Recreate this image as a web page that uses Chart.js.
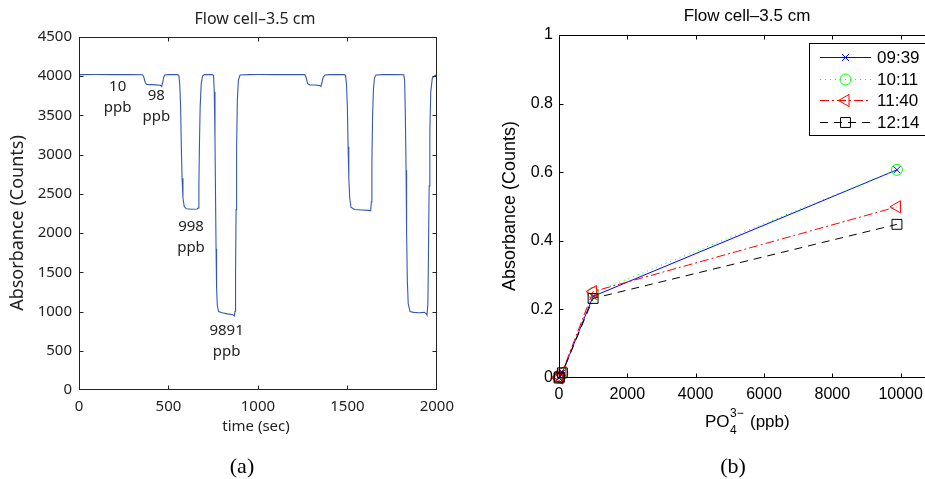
<!DOCTYPE html>
<html lang="en">
<head>
    <meta charset="UTF-8">
    <title>Flow cell–3.5 cm</title>
    <style>
        body {
            margin: 0;
            padding: 0;
            background-color: white;
            width: 925px;
            height: 479px;
            overflow: hidden;
            position: relative;
        }
        #leftChart {
            position: absolute;
            left: 0;
            top: 0;
        }
        #rightChart {
            position: absolute;
            left: 490px;
            top: 0;
        }
    </style>
</head>
<body>
    <canvas id="leftChart" width="462" height="479"></canvas>
    <canvas id="rightChart" width="520" height="479"></canvas>
    <script src="https://cdn.jsdelivr.net/npm/chart.js"></script>
    <script>
        // (a) absorbance trace over time
        const timeSec = [
            0, 100, 200, 300, 355, 362, 370, 378, 400, 430, 455, 462, 468, 474, 480, 500,
            550, 558, 563, 568, 572, 576, 581, 588, 600, 630, 660, 666, 670, 673, 677, 683, 690, 700,
            745, 752, 756, 760, 763, 766, 769, 773, 780, 800, 830, 860, 868, 872, 875, 878, 881, 885, 891, 900,
            950, 1000, 1100, 1200, 1262, 1270, 1278, 1290, 1320, 1345, 1352, 1358, 1365, 1375, 1400,
            1480, 1490, 1495, 1500, 1504, 1508, 1513, 1520, 1540, 1580, 1620, 1630, 1634, 1637, 1641, 1646, 1652, 1660, 1700,
            1780, 1815, 1820, 1824, 1828, 1831, 1835, 1840, 1850, 1870, 1900, 1930, 1940, 1945, 1950, 1953, 1957, 1961, 1966, 1975, 1990, 2000
        ];
        const absorbanceCounts = [
            4020, 4022, 4020, 4021, 4018, 3990, 3920, 3895, 3893, 3890, 3885, 3870, 3920, 3990, 4015, 4020,
            4022, 4010, 3900, 3600, 3100, 2700, 2450, 2340, 2310, 2305, 2308, 2320, 2600, 3100, 3600, 3900, 4000, 4020,
            4022, 4010, 3800, 3200, 2500, 1800, 1300, 1080, 1000, 985, 970, 960, 945, 1000, 1500, 2300, 3100, 3700, 3950, 4015,
            4020, 4021, 4020, 4022, 4020, 3980, 3905, 3890, 3888, 3880, 3870, 3920, 3990, 4015, 4020,
            4022, 4010, 3900, 3600, 3100, 2700, 2450, 2330, 2300, 2295, 2290, 2285, 2400, 2900, 3500, 3850, 3980, 4015, 4020,
            4022, 4018, 3950, 3500, 2800, 2000, 1400, 1100, 1000, 990, 985, 990, 975, 955, 1100, 1700, 2600, 3300, 3800, 3980, 4010, 4020
        ];
        const leftYTicks = [0, 500, 1000, 1500, 2000, 2500, 3000, 3500, 4000, 4500];
        const leftXTicks = [0, 500, 1000, 1500, 2000];
        // concentration labels, anchored at data coordinates
        const noteText = ['10', '98', '998', '9891'];
        const noteTime = [216, 432, 626, 825];
        const noteValue = [3729, 3614, 1950, 625];

        // (b) calibration curves
        const ppb = [0, 10, 98, 998, 9891];
        const seriesNames = ['09:39', '10:11', '11:40', '12:14'];
        const abs0939 = [0, 0.003, 0.016, 0.238, 0.607];
        const abs1011 = [0, 0.002, 0.014, 0.248, 0.607];
        const abs1140 = [0, 0.004, 0.018, 0.252, 0.499];
        const abs1214 = [0, 0.003, 0.015, 0.232, 0.448];
        const rightYTicks = [0, 0.2, 0.4, 0.6, 0.8, 1];
        const rightXTicks = [0, 2000, 4000, 6000, 8000, 10000, 12000];

        const toXY = (xs, ys) => xs.map((x, i) => ({x: x, y: ys[i]}));

        // MATLAB style box with inward ticks on all four sides
        const frameTicks = {
            id: 'frameTicks',
            afterDatasetsDraw(chart) {
                const {ctx, chartArea: a, scales} = chart;
                const color = chart.options.frameColor;
                const L = Math.round(a.left) + 0.5, R = Math.round(a.right) - 0.5;
                const T = Math.round(a.top) + 0.5, B = Math.round(a.bottom) - 0.5;
                ctx.save();
                ctx.strokeStyle = color;
                ctx.lineWidth = 1;
                ctx.setLineDash([]);
                ctx.strokeRect(L, T, R - L, B - T);
                ctx.beginPath();
                scales.x.ticks.forEach(t => {
                    const px = Math.round(scales.x.getPixelForValue(t.value)) + 0.5;
                    if (px <= L + 1 || px >= R - 1) return;
                    ctx.moveTo(px, B); ctx.lineTo(px, B - 4);
                    ctx.moveTo(px, T); ctx.lineTo(px, T + 4);
                });
                scales.y.ticks.forEach(t => {
                    const py = Math.round(scales.y.getPixelForValue(t.value)) + 0.5;
                    if (py <= T + 1 || py >= B - 1) return;
                    ctx.moveTo(L, py); ctx.lineTo(L + 4, py);
                    ctx.moveTo(R, py); ctx.lineTo(R - 4, py);
                });
                ctx.stroke();
                ctx.restore();
            }
        };

        function drawRotated(ctx, text, x, y) {
            ctx.save();
            ctx.translate(x, y);
            ctx.rotate(-Math.PI / 2);
            ctx.fillText(text, 0, 0);
            ctx.restore();
        }

        const leftText = {
            id: 'leftText',
            afterDraw(chart) {
                const {ctx, scales} = chart;
                ctx.save();
                ctx.fillStyle = '#222';
                ctx.textAlign = 'center';
                ctx.textBaseline = 'middle';
                ctx.font = '16px "Noto Sans"';
                ctx.fillText('Flow cell\u20133.5 cm', 255, 19);
                ctx.font = '15px "Noto Sans"';
                noteText.forEach((txt, i) => {
                    const x = scales.x.getPixelForValue(noteTime[i]);
                    const y = scales.y.getPixelForValue(noteValue[i]);
                    ctx.fillText(txt, x, y - 10.5);
                    ctx.fillText('ppb', x, y + 10.5);
                });
                ctx.fillText('time (sec)', 256, 427);
                ctx.font = '18px "Noto Sans"';
                drawRotated(ctx, 'Absorbance (Counts)', 18, 223);
                ctx.fillStyle = '#000';
                ctx.font = '22px "Liberation Serif"';
                ctx.fillText('(a)', 242, 467);
                ctx.restore();
            }
        };

        new Chart(document.getElementById('leftChart'), {
            type: 'line',
            data: {
                datasets: [{
                    data: toXY(timeSec, absorbanceCounts),
                    borderColor: '#3658b4',
                    borderWidth: 1.1,
                    pointRadius: 0,
                    tension: 0
                }]
            },
            options: {
                responsive: false,
                animation: false,
                frameColor: '#222',
                layout: {padding: {top: 37, right: 22, left: 0, bottom: 0}},
                plugins: {legend: {display: false}, tooltip: {enabled: false}},
                scales: {
                    x: {
                        type: 'linear', min: 0, max: 2000,
                        afterBuildTicks: s => { s.ticks = leftXTicks.map(v => ({value: v})); },
                        afterFit: s => { s.height = 89; },
                        grid: {display: false, drawTicks: false},
                        border: {display: false},
                        ticks: {padding: 8, color: '#222', maxRotation: 0, font: {family: 'Noto Sans', size: 15}, callback: v => String(v)}
                    },
                    y: {
                        type: 'linear', min: 0, max: 4500,
                        afterBuildTicks: s => { s.ticks = leftYTicks.map(v => ({value: v})); },
                        afterFit: s => { s.width = 79; },
                        grid: {display: false, drawTicks: false},
                        border: {display: false},
                        ticks: {padding: 7, color: '#222', font: {family: 'Noto Sans', size: 15}, callback: v => String(v)}
                    }
                }
            },
            plugins: [frameTicks, leftText]
        });

        const rightText = {
            id: 'rightText',
            afterDraw(chart) {
                const {ctx} = chart;
                ctx.save();
                ctx.fillStyle = '#000';
                ctx.textBaseline = 'middle';
                ctx.textAlign = 'center';
                ctx.font = '17px "Liberation Sans"';
                ctx.fillText('Flow cell\u20133.5 cm', 257, 16);
                ctx.font = '18px "Liberation Sans"';
                drawRotated(ctx, 'Absorbance (Counts)', 20, 206);
                // PO4^3- (ppb)
                ctx.textAlign = 'left';
                ctx.font = '17px "Liberation Sans"';
                ctx.fillText('PO', 215, 422);
                ctx.font = '12px "Liberation Sans"';
                ctx.fillText('3\u2212', 240, 414);
                ctx.fillText('4', 240, 431);
                ctx.font = '17px "Liberation Sans"';
                ctx.fillText('(ppb)', 260, 422);
                ctx.textAlign = 'center';
                ctx.font = '22px "Liberation Serif"';
                ctx.fillText('(b)', 243, 467);

                // legend box
                const bx = 319, by = 43, bw = 170, bh = 92;
                const rowY = [57, 79, 100, 122];
                ctx.fillStyle = '#fff';
                ctx.fillRect(bx, by, bw, bh);
                ctx.strokeStyle = '#000';
                ctx.lineWidth = 1;
                ctx.strokeRect(bx + 0.5, by + 0.5, bw, bh);
                chart.data.datasets.forEach((ds, i) => {
                    const y = rowY[i] + 0.5;
                    ctx.save();
                    ctx.strokeStyle = ds.borderColor;
                    ctx.lineWidth = 1;
                    ctx.setLineDash(ds.borderDash || []);
                    ctx.beginPath();
                    ctx.moveTo(330, y);
                    ctx.lineTo(381, y);
                    ctx.stroke();
                    ctx.setLineDash([]);
                    ctx.fillStyle = 'rgba(0,0,0,0)';
                    Chart.helpers.drawPoint(ctx, {
                        pointStyle: ds.pointStyle,
                        radius: ds.pointRadius,
                        rotation: ds.pointRotation || 0,
                        borderWidth: 1
                    }, 355.5, y);
                    ctx.restore();
                    ctx.fillStyle = '#000';
                    ctx.textAlign = 'left';
                    ctx.font = '17px "Liberation Sans"';
                    ctx.fillText(ds.label, 387, rowY[i] + 1);
                });
                ctx.restore();
            }
        };

        const lineSeries = (label, ys, color, dash, style, radius, rot, order) => ({
            label: label,
            data: toXY(ppb, ys),
            showLine: true,
            borderColor: color,
            borderWidth: 1,
            borderDash: dash,
            pointStyle: style,
            pointRadius: radius,
            pointRotation: rot,
            pointBorderColor: color,
            pointBackgroundColor: 'rgba(0,0,0,0)',
            pointBorderWidth: 1,
            tension: 0,
            clip: false,
            order: order
        });

        new Chart(document.getElementById('rightChart'), {
            type: 'line',
            data: {
                datasets: [
                    lineSeries(seriesNames[0], abs0939, '#0000ff', [], 'crossRot', 5, 0, 4),
                    lineSeries(seriesNames[1], abs1011, '#00ff00', [1, 4], 'circle', 5.5, 0, 3),
                    lineSeries(seriesNames[2], abs1140, '#ff0000', [9, 3, 2, 3], 'triangle', 7, -90, 2),
                    lineSeries(seriesNames[3], abs1214, '#000000', [8, 6], 'rect', 7, 0, 1)
                ]
            },
            options: {
                responsive: false,
                animation: false,
                frameColor: '#000',
                layout: {padding: {top: 35, right: 41, left: 0, bottom: 0}},
                plugins: {legend: {display: false}, tooltip: {enabled: false}},
                scales: {
                    x: {
                        type: 'linear', min: 0, max: 12000,
                        afterBuildTicks: s => { s.ticks = rightXTicks.map(v => ({value: v})); },
                        afterFit: s => { s.height = 101; },
                        grid: {display: false, drawTicks: false},
                        border: {display: false},
                        ticks: {padding: 7, color: '#000', maxRotation: 0, font: {family: 'Liberation Sans', size: 16}, callback: v => String(v)}
                    },
                    y: {
                        type: 'linear', min: 0, max: 1,
                        afterBuildTicks: s => { s.ticks = rightYTicks.map(v => ({value: v})); },
                        afterFit: s => { s.width = 69; },
                        grid: {display: false, drawTicks: false},
                        border: {display: false},
                        ticks: {padding: 6, color: '#000', font: {family: 'Liberation Sans', size: 16}, callback: v => String(v)}
                    }
                }
            },
            plugins: [frameTicks, rightText]
        });
    </script>
</body>
</html>
